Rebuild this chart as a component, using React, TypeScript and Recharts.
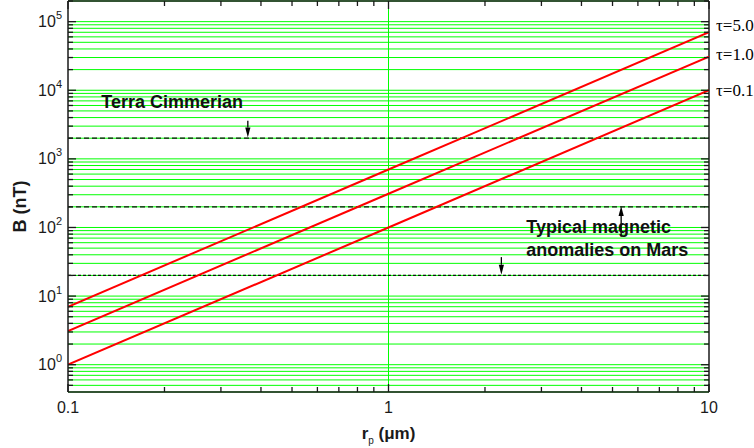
import { LineChart, Line, XAxis, YAxis, CartesianGrid, ReferenceLine, ReferenceDot } from "recharts";

// particle radius (µm) and field strength (nT) for each optical depth
const radius = [0.1, 1, 10];
const tau50 = [7, 700, 70000];
const tau10 = [3.1, 310, 31000];
const tau01 = [1, 100, 10000];
const tauNames = ["τ=5.0", "τ=1.0", "τ=0.1"];
const tauLabelValues = [90000, 34000, 10000];

const xTicks = [0.1, 0.2, 0.3, 0.4, 0.5, 0.6, 0.7, 0.8, 0.9, 1, 2, 3, 4, 5, 6, 7, 8, 9, 10];
const yTicks = [
  0.5, 0.6, 0.7, 0.8, 0.9,
  1, 2, 3, 4, 5, 6, 7, 8, 9,
  10, 20, 30, 40, 50, 60, 70, 80, 90,
  100, 200, 300, 400, 500, 600, 700, 800, 900,
  1000, 2000, 3000, 4000, 5000, 6000, 7000, 8000, 9000,
  10000, 20000, 30000, 40000, 50000, 60000, 70000, 80000, 90000,
  100000, 200000,
];

// observed field levels (dashed) and their annotations
const fieldLevels = [2000, 200, 20];
const terraLabel = { x: 0.127, y: 6700, text: "Terra Cimmerian" };
const marsLabel = { x: 2.69, y: 100, lines: ["Typical magnetic", "anomalies on Mars"] };
const arrows = [
  { x: 0.364, from: 3600, to: 2050 },
  { x: 5.32, from: 73, to: 205 },
  { x: 2.25, from: 37, to: 20.5 },
];

const data = radius.map((r, i) => ({ r, t50: tau50[i], t10: tau10[i], t01: tau01[i] }));
const seriesKeys = ["t50", "t10", "t01"];

const W = 754;
const H = 448;
const MARGIN = { top: 1, right: 45, bottom: 0, left: 0 };
const Y_AXIS_W = 68;
const X_AXIS_H = 56;
const PLOT_RIGHT = W - MARGIN.right;
const PLOT_TOP = MARGIN.top;
const TICK_MARGIN = 6;

const SANS = "'Liberation Sans', Arial, sans-serif";
const SERIF = "'Liberation Serif', 'Times New Roman', serif";
const AXIS_COLOR = "#1a1a1a";
const GRID_COLOR = "#00ff00";

const isDecade = (v: number) => Math.abs(Math.log10(v) - Math.round(Math.log10(v))) < 1e-6;

const YTick = (props: any) => {
  const { x, y, payload } = props;
  const v = payload.value;
  const major = isDecade(v);
  const len = major ? 8 : 5;
  const axisX = x + TICK_MARGIN;
  return (
    <g>
      <line x1={axisX} x2={axisX + len} y1={y} y2={y} stroke={AXIS_COLOR} strokeWidth={1.3} />
      <line x1={PLOT_RIGHT} x2={PLOT_RIGHT - len} y1={y} y2={y} stroke={AXIS_COLOR} strokeWidth={1.3} />
      {major && (
        <text x={x} y={y} dy={5.5} textAnchor="end" fontSize={16} fontFamily={SANS} fill={AXIS_COLOR}>
          <tspan>10</tspan>
          <tspan dy={-8} fontSize={11}>
            {Math.round(Math.log10(v))}
          </tspan>
        </text>
      )}
    </g>
  );
};

const XTick = (props: any) => {
  const { x, y, payload } = props;
  const v = payload.value;
  const major = isDecade(v);
  const len = major ? 8 : 5;
  const axisY = y - TICK_MARGIN;
  return (
    <g>
      <line x1={x} x2={x} y1={axisY} y2={axisY - len} stroke={AXIS_COLOR} strokeWidth={1.3} />
      <line x1={x} x2={x} y1={PLOT_TOP} y2={PLOT_TOP + len} stroke={AXIS_COLOR} strokeWidth={1.3} />
      {major && (
        <text x={x} y={y} dy={15} textAnchor="middle" fontSize={16} fontFamily={SANS} fill={AXIS_COLOR}>
          {String(v)}
        </text>
      )}
    </g>
  );
};

const Arrow = (props: any) => {
  const { x1, y1, x2, y2 } = props;
  const dir = y2 > y1 ? 1 : -1;
  const head = 10;
  return (
    <g>
      <line x1={x1} y1={y1} x2={x2} y2={y2 - dir * head} stroke="#000" strokeWidth={1.3} />
      <polygon
        points={`${x2},${y2} ${x2 - 2.6},${y2 - dir * head} ${x2 + 2.6},${y2 - dir * head}`}
        fill="#000"
      />
    </g>
  );
};

const YLabel = (props: any) => {
  const { viewBox } = props;
  const cx = viewBox.x + 20;
  const cy = viewBox.y + viewBox.height / 2 + 10;
  return (
    <text
      x={cx}
      y={cy}
      transform={`rotate(-90 ${cx} ${cy})`}
      textAnchor="middle"
      dominantBaseline="central"
      fontSize={18}
      fontWeight="bold"
      fontFamily={SANS}
      fill={AXIS_COLOR}
    >
      B (nT)
    </text>
  );
};

const XLabel = (props: any) => {
  const { viewBox } = props;
  const cx = viewBox.x + viewBox.width / 2;
  const cy = viewBox.y + 47;
  return (
    <text x={cx} y={cy} textAnchor="middle" fontSize={17} fontWeight="bold" fontFamily={SANS} fill={AXIS_COLOR}>
      <tspan>r</tspan>
      <tspan dy={5} fontSize={10} fontWeight="normal">p</tspan>
      <tspan dy={-5}> (μm)</tspan>
    </text>
  );
};

export default function App() {
  return (
    <div style={{ position: "absolute", left: 0, top: 0, background: "#fff" }}>
      <LineChart width={W} height={H} data={data} margin={MARGIN}>
        <CartesianGrid vertical={false} stroke={GRID_COLOR} strokeWidth={1} />
        <XAxis
          dataKey="r"
          type="number"
          scale="log"
          domain={[0.1, 10]}
          allowDataOverflow
          ticks={xTicks}
          interval={0}
          height={X_AXIS_H}
          tickSize={0}
          tickMargin={TICK_MARGIN}
          tickLine={false}
          tick={<XTick />}
          axisLine={{ stroke: AXIS_COLOR, strokeWidth: 1.5 }}
          label={<XLabel />}
        />
        <YAxis
          type="number"
          scale="log"
          domain={[0.4, 200000]}
          allowDataOverflow
          ticks={yTicks}
          interval={0}
          width={Y_AXIS_W}
          tickSize={0}
          tickMargin={TICK_MARGIN}
          tickLine={false}
          tick={<YTick />}
          axisLine={{ stroke: AXIS_COLOR, strokeWidth: 1.5 }}
          label={<YLabel />}
        />
        <ReferenceLine x={1} stroke={GRID_COLOR} strokeWidth={1} />
        {fieldLevels.map((lv, i) => (
          <ReferenceLine
            key={lv}
            y={lv}
            stroke="#111"
            strokeWidth={1.2}
            strokeDasharray={i === 2 ? "3 2" : "5 3"}
          />
        ))}
        <ReferenceLine y={200000} stroke={AXIS_COLOR} strokeWidth={1.5} />
        <ReferenceLine x={10} stroke={AXIS_COLOR} strokeWidth={1.5} />
        {seriesKeys.map((k) => (
          <Line
            key={k}
            dataKey={k}
            type="linear"
            stroke="#ff0000"
            strokeWidth={2}
            dot={false}
            activeDot={false}
            isAnimationActive={false}
          />
        ))}
        {arrows.map((a, i) => (
          <ReferenceLine
            key={i}
            segment={[
              { x: a.x, y: a.from },
              { x: a.x, y: a.to },
            ]}
            shape={<Arrow />}
          />
        ))}
        <ReferenceDot
          x={terraLabel.x}
          y={terraLabel.y}
          r={0}
          shape={(p: any) => (
            <text x={p.cx} y={p.cy} dy={6} fontSize={18} fontWeight="bold" fontFamily={SANS} fill="#111">
              {terraLabel.text}
            </text>
          )}
        />
        <ReferenceDot
          x={marsLabel.x}
          y={marsLabel.y}
          r={0}
          shape={(p: any) => (
            <text x={p.cx} y={p.cy} dy={6} fontSize={18} fontWeight="bold" fontFamily={SANS} fill="#111">
              <tspan x={p.cx}>{marsLabel.lines[0]}</tspan>
              <tspan x={p.cx} dy={23}>
                {marsLabel.lines[1]}
              </tspan>
            </text>
          )}
        />
        {tauNames.map((name, i) => (
          <ReferenceDot
            key={name}
            x={10}
            y={tauLabelValues[i]}
            r={0}
            ifOverflow="visible"
            shape={(p: any) => (
              <text x={p.cx} y={p.cy} dx={7} dy={6} fontSize={17} fontFamily={SERIF} fill="#000">
                {name}
              </text>
            )}
          />
        ))}
      </LineChart>
    </div>
  );
}
